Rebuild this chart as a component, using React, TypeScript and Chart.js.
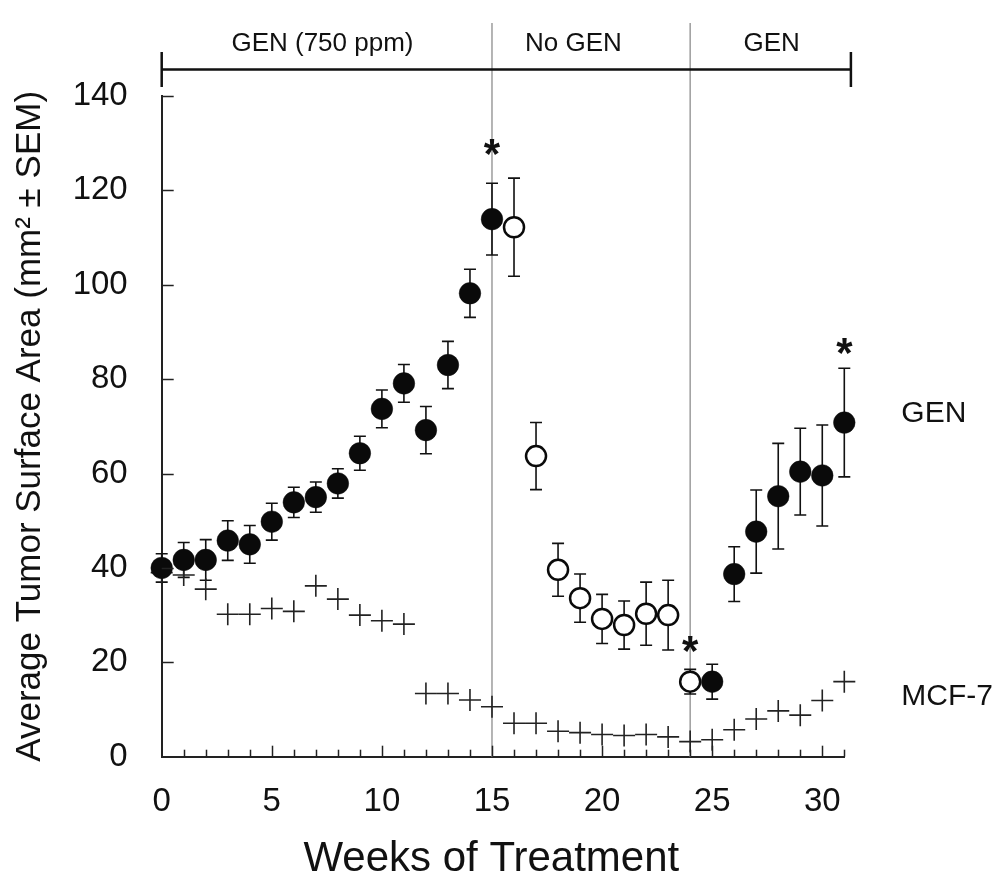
import React, { useEffect, useRef } from 'react';
import { Chart, registerables } from 'chart.js';

Chart.register(...registerables);

const FONT = '"Liberation Sans", Arial, Helvetica, sans-serif';

// GEN-fed (filled circles): weeks on genistein
const genOnWeeks = [0, 1, 2, 3, 4, 5, 6, 7, 8, 9, 10, 11, 12, 13, 14, 15, 25, 26, 27, 28, 29, 30, 31];
const genOnMean = [40.0, 41.7, 41.7, 45.8, 45.0, 49.8, 53.9, 55.0, 57.9, 64.3, 73.7, 79.1, 69.2, 83.0, 98.2, 113.9, 15.9, 38.7, 47.7, 55.2, 60.4, 59.6, 70.8];
const genOnSem = [3.0, 3.7, 4.3, 4.2, 4.0, 3.9, 3.2, 3.2, 3.1, 3.6, 4.0, 4.0, 5.0, 5.0, 5.1, 7.6, 3.7, 5.8, 8.8, 11.2, 9.2, 10.7, 11.5];

// GEN withdrawn (open circles)
const genOffWeeks = [16, 17, 18, 19, 20, 21, 22, 23, 24];
const genOffMean = [112.2, 63.7, 39.6, 33.6, 29.2, 27.9, 30.3, 30.0, 15.9];
const genOffSem = [10.4, 7.1, 5.6, 5.1, 5.2, 5.1, 6.7, 7.4, 2.6];

// MCF-7 control (crosses)
const mcfWeeks = [0, 1, 2, 3, 4, 5, 6, 7, 8, 9, 10, 11, 12, 13, 14, 15, 16, 17, 18, 19, 20, 21, 22, 23, 24, 25, 26, 27, 28, 29, 30, 31];
const mcfMean = [39.0, 38.5, 35.5, 30.2, 30.2, 31.4, 30.8, 36.2, 33.4, 30.0, 28.8, 28.1, 13.4, 13.4, 12.0, 10.6, 7.1, 7.1, 5.4, 5.1, 4.7, 4.5, 4.7, 4.2, 3.2, 3.6, 5.7, 8.0, 9.7, 8.8, 11.9, 15.9];

const xTickValues = [0, 5, 10, 15, 20, 25, 30];
const yTickValues = [0, 20, 40, 60, 80, 100, 120, 140];

const phaseBoundaries = [15, 24];
const phaseLabels = ['GEN (750 ppm)', 'No GEN', 'GEN'];
const phaseLabelWeeks = [7.3, 18.7, 27.7];
const treatmentSpan = [0, 31.3];

const starWeeks = [15, 24, 31];
const starValues = [130, 24.7, 87.9];

const seriesLabels = ['GEN', 'MCF-7'];
const seriesLabelValues = [72.7, 12.8];

const decorPlugin = {
  id: 'decor',
  beforeDatasetsDraw(chart: any) {
    const { ctx, chartArea, scales } = chart;
    const x = scales.x;
    const y = scales.y;
    ctx.save();
    // phase boundary lines
    ctx.strokeStyle = '#9c9c9c';
    ctx.lineWidth = 1.5;
    phaseBoundaries.forEach((w) => {
      const px = x.getPixelForValue(w);
      ctx.beginPath();
      ctx.moveTo(px, chartArea.top - 73);
      ctx.lineTo(px, chartArea.bottom);
      ctx.stroke();
    });
    // error bars
    ctx.strokeStyle = '#111';
    ctx.lineWidth = 1.6;
    const cap = 6;
    const drawErr = (weeks: number[], means: number[], sems: number[]) => {
      weeks.forEach((w, i) => {
        const px = x.getPixelForValue(w);
        const top = y.getPixelForValue(means[i] + sems[i]);
        const bot = y.getPixelForValue(means[i] - sems[i]);
        ctx.beginPath();
        ctx.moveTo(px, top);
        ctx.lineTo(px, bot);
        ctx.moveTo(px - cap, top);
        ctx.lineTo(px + cap, top);
        ctx.moveTo(px - cap, bot);
        ctx.lineTo(px + cap, bot);
        ctx.stroke();
      });
    };
    drawErr(genOnWeeks, genOnMean, genOnSem);
    drawErr(genOffWeeks, genOffMean, genOffSem);
    ctx.restore();
  },
  afterDatasetsDraw(chart: any) {
    const { ctx, chartArea, scales } = chart;
    const x = scales.x;
    const y = scales.y;
    ctx.save();
    // inward ticks
    ctx.strokeStyle = '#222';
    ctx.lineWidth = 1.5;
    for (let w = 1; w <= 31; w++) {
      const px = Math.round(x.getPixelForValue(w)) + 0.5;
      const len = w % 5 === 0 ? 11 : 7;
      ctx.beginPath();
      ctx.moveTo(px, chartArea.bottom);
      ctx.lineTo(px, chartArea.bottom - len);
      ctx.stroke();
    }
    yTickValues.forEach((v) => {
      if (v === 0) return;
      const py = Math.round(y.getPixelForValue(v)) + 0.5;
      ctx.beginPath();
      ctx.moveTo(chartArea.left, py);
      ctx.lineTo(chartArea.left + 12, py);
      ctx.stroke();
    });
    // treatment bar
    const barY = chartArea.top - 26.5;
    const x0 = x.getPixelForValue(treatmentSpan[0]);
    const x1 = x.getPixelForValue(treatmentSpan[1]);
    ctx.strokeStyle = '#111';
    ctx.lineWidth = 2.5;
    ctx.beginPath();
    ctx.moveTo(x0, barY);
    ctx.lineTo(x1, barY);
    ctx.moveTo(x0, barY - 17.5);
    ctx.lineTo(x0, barY + 17.5);
    ctx.moveTo(x1, barY - 17.5);
    ctx.lineTo(x1, barY + 17.5);
    ctx.stroke();
    // phase labels
    ctx.fillStyle = '#111';
    ctx.font = `26px ${FONT}`;
    ctx.textAlign = 'center';
    ctx.textBaseline = 'middle';
    phaseLabels.forEach((t, i) => {
      ctx.fillText(t, x.getPixelForValue(phaseLabelWeeks[i]), chartArea.top - 52);
    });
    // significance stars
    const starSize = 42;
    ctx.font = `bold ${starSize}px ${FONT}`;
    ctx.textBaseline = 'alphabetic';
    starWeeks.forEach((w, i) => {
      ctx.fillText('*', x.getPixelForValue(w), y.getPixelForValue(starValues[i]) + starSize * 0.6);
    });
    // series labels
    ctx.font = `30px ${FONT}`;
    ctx.textAlign = 'left';
    ctx.textBaseline = 'middle';
    seriesLabels.forEach((t, i) => {
      ctx.fillText(t, chartArea.right + 57, y.getPixelForValue(seriesLabelValues[i]));
    });
    ctx.restore();
  },
};

export default function App() {
  const ref = useRef<HTMLCanvasElement>(null);
  useEffect(() => {
    const canvas = ref.current;
    if (!canvas) return;
    const chart = new Chart(canvas, {
      type: 'scatter',
      data: {
        datasets: [
          {
            label: 'GEN',
            data: genOnWeeks.map((w, i) => ({ x: w, y: genOnMean[i] })),
            pointStyle: 'circle',
            pointRadius: 10.8,
            pointBackgroundColor: '#0a0a0a',
            pointBorderColor: '#0a0a0a',
            pointBorderWidth: 0.5,
            clip: false,
          } as any,
          {
            label: 'No GEN',
            data: genOffWeeks.map((w, i) => ({ x: w, y: genOffMean[i] })),
            pointStyle: 'circle',
            pointRadius: 10,
            pointBackgroundColor: '#ffffff',
            pointBorderColor: '#0a0a0a',
            pointBorderWidth: 2.5,
            clip: false,
          } as any,
          {
            label: 'MCF-7',
            data: mcfWeeks.map((w, i) => ({ x: w, y: mcfMean[i] })),
            pointStyle: 'cross',
            pointRadius: 11,
            pointBorderColor: '#222',
            pointBorderWidth: 1.6,
            clip: false,
          } as any,
        ],
      },
      options: {
        animation: false,
        responsive: false,
        devicePixelRatio: 1,
        events: [],
        layout: { padding: { top: 96, right: 154.7, left: 0, bottom: 0 } },
        plugins: { legend: { display: false }, tooltip: { enabled: false } },
        scales: {
          x: {
            type: 'linear',
            position: 'bottom',
            min: 0,
            max: 31,
            grid: { display: false, drawTicks: false },
            border: { display: true, color: '#222', width: 2 },
            ticks: {
              font: { family: FONT, size: 33, lineHeight: 1 },
              color: '#111',
              padding: 29,
              maxRotation: 0,
              autoSkip: false,
            },
            afterBuildTicks: (s: any) => {
              s.ticks = xTickValues.map((v) => ({ value: v }));
            },
            afterFit: (s: any) => {
              s.height = 123.3;
            },
            title: {
              display: true,
              text: 'Weeks of Treatment\u00A0\u00A0',
              font: { family: FONT, size: 42, lineHeight: 1 },
              color: '#111',
              padding: { top: 0, bottom: 0 },
            },
          },
          y: {
            type: 'linear',
            position: 'left',
            min: 0,
            max: 140,
            grid: { display: false, drawTicks: false },
            border: { display: true, color: '#222', width: 2 },
            ticks: {
              font: { family: FONT, size: 33, lineHeight: 1 },
              color: '#111',
              padding: 34,
            },
            afterBuildTicks: (s: any) => {
              s.ticks = yTickValues.map((v) => ({ value: v }));
            },
            afterFit: (s: any) => {
              s.width = 161.7;
            },
            title: {
              display: true,
              text: 'Average Tumor Surface Area (mm² ± SEM)',
              font: { family: FONT, size: 35, lineHeight: 1 },
              color: '#111',
              padding: { top: 13, bottom: 0 },
            },
          },
        },
      } as any,
      plugins: [decorPlugin],
    });
    return () => chart.destroy();
  }, []);
  return (
    <div style={{ position: 'absolute', left: 0, top: 0, width: 999, height: 880, overflow: 'hidden' }}>
      <canvas ref={ref} width={999} height={880} style={{ display: 'block' }} />
    </div>
  );
}
